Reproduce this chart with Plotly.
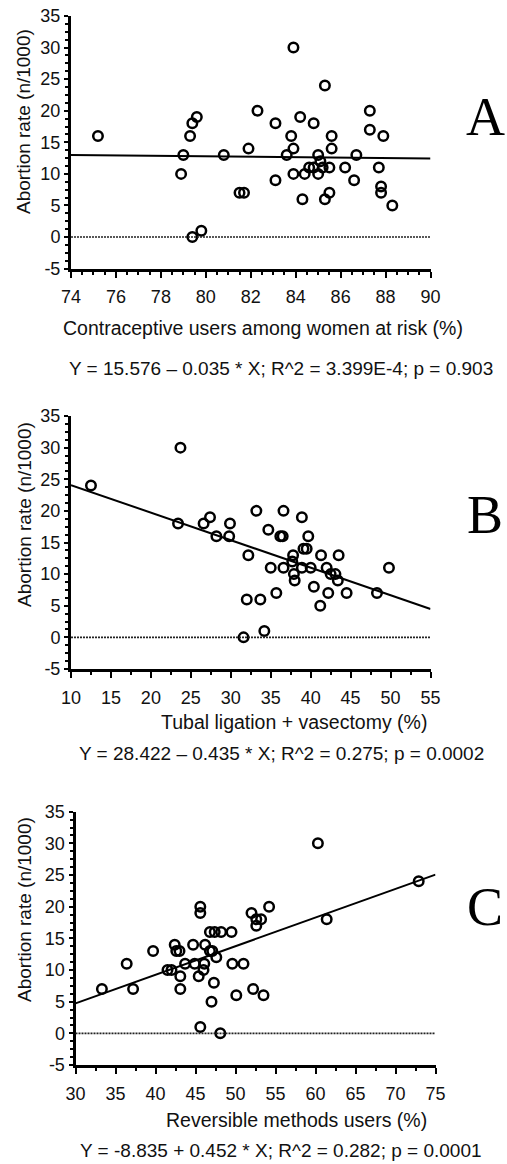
import plotly.graph_objects as go

# ---------------- data ----------------
a_x = [75.2, 78.9, 79.0, 79.3, 79.4, 79.6, 79.4, 79.8, 80.8, 81.5, 81.7, 81.9, 82.3, 83.1,
       83.1, 83.6, 83.8, 83.9, 83.9, 83.9, 84.2, 84.3, 84.4, 84.6, 84.8, 84.8, 85.0, 85.1,
       85.0, 85.2, 85.3, 85.3, 85.5, 85.5, 85.6, 85.6, 86.2, 86.6, 86.7, 87.3, 87.3, 87.7,
       87.8, 87.8, 87.9, 88.3]
a_y = [16, 10, 13, 16, 18, 19, 0, 1, 13, 7, 7, 14, 20, 18,
       9, 13, 16, 14, 30, 10, 19, 6, 10, 11, 11, 18, 13, 12,
       10, 11, 24, 6, 7, 11, 14, 16, 11, 9, 13, 20, 17, 11,
       8, 7, 16, 5]

b_x = [12.5, 23.7, 23.4, 26.6, 27.4, 28.2, 29.8, 29.9, 31.6, 32.0, 32.2, 33.2, 33.7, 34.2,
       34.7, 35.0, 35.7, 36.2, 36.5, 36.6, 36.6, 37.7, 37.8, 37.9, 38.0, 38.9, 38.9, 39.1,
       39.5, 39.7, 40.0, 40.4, 41.2, 41.3, 42.0, 42.2, 42.5, 43.1, 43.4, 43.5, 44.5, 48.3,
       49.8]
b_y = [24, 30, 18, 18, 19, 16, 16, 18, 0, 6, 13, 20, 6, 1,
       17, 11, 7, 16, 16, 20, 11, 12, 13, 10, 9, 19, 11, 14,
       14, 16, 11, 8, 5, 13, 11, 7, 10, 10, 9, 13, 7, 7,
       11]

c_x = [33.3, 36.4, 37.2, 39.7, 41.5, 42.0, 42.4, 42.6, 43.0, 43.1, 43.1, 43.7, 44.7, 44.9,
       45.4, 45.6, 45.6, 45.6, 46.0, 46.1, 46.2, 46.8, 46.8, 47.0, 47.1, 47.3, 47.4, 47.6,
       48.1, 48.2, 49.5, 49.6, 50.1, 51.0, 52.0, 52.2, 52.6, 52.6, 53.2, 53.5, 54.2, 60.3,
       61.4, 72.9]
c_y = [7, 11, 7, 13, 10, 10, 14, 13, 13, 9, 7, 11, 14, 11,
       9, 20, 19, 1, 10, 11, 14, 13, 16, 5, 13, 8, 16, 12,
       0, 16, 16, 11, 6, 11, 19, 7, 18, 17, 18, 6, 20, 30,
       18, 24]

# regression coefficients (intercept, slope) as printed
a_fit = (15.576, -0.035)
b_fit = (28.422, -0.435)
c_fit = (-8.835, 0.452)

a_range = [74, 90]
b_range = [10, 55]
c_range = [30, 75]
y_range = [-5, 35]
y_ticks = [-5, 0, 5, 10, 15, 20, 25, 30, 35]
y_tick_labels = ["-5", "0", "5", "10", "15", "20", "25", "30", "35"]

x_titles = ["Contraceptive users among women at risk (%)",
            "Tubal ligation + vasectomy (%)",
            "Reversible methods users (%)"]
equations = ["Y = 15.576 \u2013 0.035 * X; R^2 = 3.399E-4; p = 0.903",
             "Y = 28.422 \u2013 0.435 * X; R^2 = 0.275; p = 0.0002",
             "Y = -8.835 + 0.452 * X; R^2 = 0.282; p = 0.0001"]
letters = ["A", "B", "C"]
y_title = "Abortion rate (n/1000)"

# ---------------- layout helpers ----------------
W, H = 507, 1164
FONT = "Liberation Sans, Arial, Helvetica, sans-serif"
SERIF = "Liberation Serif, Times New Roman, serif"
INK = "#111111"


def px_x(p):
    return p / W


def px_y(p):
    return 1 - p / H


panels = [
    dict(xs=a_x, ys=a_y, fit=a_fit, rng=a_range, dtick=2, minor=0.5,
         left=71, right=430.5, top=16, bottom=268.6,
         xt=(263, 328), eq=(281, 368), letter=(485, 117), yt=(24, 122)),
    dict(xs=b_x, ys=b_y, fit=b_fit, rng=b_range, dtick=5, minor=2.5,
         left=71, right=430.5, top=416, bottom=669,
         xt=(294, 722), eq=(281, 753), letter=(485, 515), yt=(24, 515)),
    dict(xs=c_x, ys=c_y, fit=c_fit, rng=c_range, dtick=5, minor=2.5,
         left=75.5, right=435.5, top=811.7, bottom=1065,
         xt=(296, 1120), eq=(281, 1150), letter=(485, 907), yt=(24, 910)),
]

fig = go.Figure()
layout = dict(width=W, height=H, margin=dict(l=0, r=0, t=0, b=0),
              paper_bgcolor="white", plot_bgcolor="white", showlegend=False,
              font=dict(family=FONT, color=INK, size=18))
annotations = []
shapes = []

for i, p in enumerate(panels):
    n = "" if i == 0 else str(i + 1)
    xa, ya = "x" + n, "y" + n
    fig.add_trace(go.Scatter(
        x=p["xs"], y=p["ys"], mode="markers", xaxis=xa, yaxis=ya,
        marker=dict(symbol="circle-open", size=9.5, color="black",
                    line=dict(width=2.5, color="black")),
        cliponaxis=False))
    b0, b1 = p["fit"]
    fx = list(p["rng"])
    fy = [b0 + b1 * v for v in fx]
    fig.add_trace(go.Scatter(x=fx, y=fy, mode="lines", xaxis=xa, yaxis=ya,
                             line=dict(color="black", width=2)))
    shapes.append(dict(type="line", xref=xa + " domain", yref=ya, x0=0, x1=1,
                       y0=0, y1=0, line=dict(color="#222", width=1.6, dash="2px,1px")))

    layout["xaxis" + n] = dict(
        domain=[px_x(p["left"]), px_x(p["right"])], anchor=ya,
        range=p["rng"], tick0=p["rng"][0], dtick=p["dtick"],
        showline=True, linecolor="black", linewidth=3, mirror=False,
        ticks="outside", ticklen=6, tickwidth=2, tickcolor="black",
        showgrid=False, zeroline=False, automargin=False,
        tickfont=dict(size=18, family=FONT, color=INK),
        ticklabelstandoff=4,
        minor=dict(ticks="outside", ticklen=3, tickwidth=2, tickcolor="black",
                   dtick=p["minor"], tick0=p["rng"][0], showgrid=False))
    layout["yaxis" + n] = dict(
        domain=[px_y(p["bottom"]), px_y(p["top"])], anchor=xa,
        range=y_range, tickmode="array", tickvals=y_ticks, ticktext=y_tick_labels,
        showline=True, linecolor="black", linewidth=3, mirror=False,
        ticks="outside", ticklen=4, tickwidth=2, tickcolor="black",
        showgrid=False, zeroline=False, automargin=False,
        tickfont=dict(size=18, family=FONT, color=INK),
        minor=dict(ticks="outside", ticklen=3, tickwidth=2, tickcolor="black",
                   dtick=1.25, tick0=-5, showgrid=False))

    annotations.append(dict(text=y_title, textangle=-90, xref="paper", yref="paper",
                            x=px_x(p["yt"][0]), y=px_y(p["yt"][1]),
                            xanchor="center", yanchor="middle", showarrow=False,
                            font=dict(size=19, family=FONT, color=INK)))
    annotations.append(dict(text=x_titles[i], xref="paper", yref="paper",
                            x=px_x(p["xt"][0]), y=px_y(p["xt"][1]),
                            xanchor="center", yanchor="middle", showarrow=False,
                            font=dict(size=19.5, family=FONT, color=INK)))
    annotations.append(dict(text=equations[i], xref="paper", yref="paper",
                            x=px_x(p["eq"][0]), y=px_y(p["eq"][1]),
                            xanchor="center", yanchor="middle", showarrow=False,
                            font=dict(size=19, family=FONT, color=INK)))
    annotations.append(dict(text=letters[i], xref="paper", yref="paper",
                            x=px_x(p["letter"][0]), y=px_y(p["letter"][1]),
                            xanchor="center", yanchor="middle", showarrow=False,
                            font=dict(size=54, family=SERIF, color="black")))

layout["annotations"] = annotations
layout["shapes"] = shapes
fig.update_layout(**layout)
fig.write_html(
    "out.html",
    config={"displayModeBar": False},
    post_script="document.body.style.margin='0';document.body.style.overflow='hidden';"
                "document.documentElement.style.overflow='hidden';",
)
